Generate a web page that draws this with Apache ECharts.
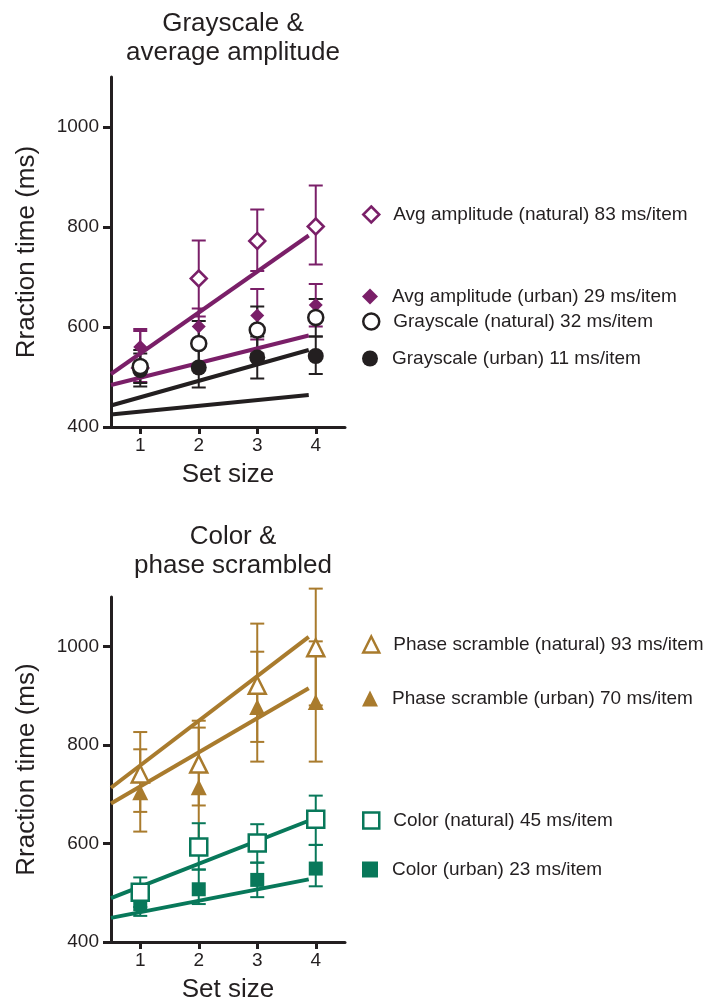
<!DOCTYPE html>
<html>
<head>
<meta charset="utf-8">
<script src="https://cdn.jsdelivr.net/npm/echarts@6/dist/echarts.min.js"></script>
<style>
html,body{margin:0;padding:0;background:#fff;}
#chart{width:722px;height:1004px;}
</style>
</head>
<body>
<div id="chart"></div>
<script>
// ---------- data ----------
const setSizes = [1, 2, 3, 4];
const yTicks = [400, 600, 800, 1000];
const fitX = [0.5, 3.88];

// Top panel: Grayscale & average amplitude
const avgNatMean = [518, 697, 772, 801];
const avgNatLo   = [490, 621, 712, 725];
const avgNatHi   = [596, 773, 835, 883];
const avgNatFit  = [506, 783];

const avgUrbMean = [560, 601, 623, 644];
const avgUrbLo   = [522, 565, 575, 601];
const avgUrbHi   = [592, 637, 676, 686];
const avgUrbFit  = [484, 583];

const grayNatMean = [521, 567, 594, 619];
const grayNatLo   = [488, 522, 547, 581];
const grayNatHi   = [554, 612, 641, 656];
const grayNatFit  = [443, 554];

const grayUrbMean = [514, 519, 539, 542];
const grayUrbLo   = [481, 479, 497, 506];
const grayUrbHi   = [547, 559, 581, 581];
const grayUrbFit  = [425, 464];

// Bottom panel: Color & phase scrambled
const phaseNatMean = [741, 761, 921, 997];
const phaseNatLo   = [664, 677, 806, 880];
const phaseNatHi   = [826, 849, 1046, 1117];
const phaseNatFit  = [713, 1019];

const phaseUrbMean = [704, 714, 877, 887];
const phaseUrbLo   = [624, 593, 766, 766];
const phaseUrbHi   = [791, 835, 989, 1010];
const phaseUrbFit  = [681, 915];

const colorNatMean = [501, 593, 601, 649];
const colorNatLo   = [471, 547, 561, 597];
const colorNatHi   = [531, 641, 639, 697];
const colorNatFit  = [489, 646];

const colorUrbMean = [477, 507, 526, 549];
const colorUrbLo   = [453, 477, 491, 513];
const colorUrbHi   = [500, 547, 561, 597];
const colorUrbFit  = [449, 527];

const titles = ['Grayscale &\naverage amplitude', 'Color &\nphase scrambled'];
const yName = 'Rraction time (ms)';
const xName = 'Set size';
const names = {
  avgNat: 'Avg amplitude (natural) 83 ms/item',
  avgUrb: 'Avg amplitude (urban) 29 ms/item',
  grayNat: 'Grayscale (natural) 32 ms/item',
  grayUrb: 'Grayscale (urban) 11 ms/item',
  phaseNat: 'Phase scramble (natural) 93 ms/item',
  phaseUrb: 'Phase scramble (urban) 70 ms/item',
  colorNat: 'Color (natural) 45 ms/item',
  colorUrb: 'Color (urban) 23 ms/item'
};

// ---------- styles ----------
const PURPLE = '#7a1f68';
const BLACK = '#231f20';
const GOLD = '#a97b2d';
const GREEN = '#08785a';
const FONT = '"Liberation Sans", Arial, Helvetica, sans-serif';

const chart = echarts.init(document.getElementById('chart'), null, {renderer: 'canvas'});

function zip(a, b) { return a.map((v, i) => [v, b[i]]); }

function errSeries(idx, color, lo, hi) {
  return {
    type: 'custom', xAxisIndex: idx, yAxisIndex: idx, silent: true, z: 2,
    clip: false,
    data: setSizes.map((x, i) => [x, lo[i], hi[i]]),
    renderItem: function (params, api) {
      const x = api.value(0);
      const p1 = api.coord([x, api.value(1)]);
      const p2 = api.coord([x, api.value(2)]);
      const w = 7;
      const st = {stroke: color, lineWidth: 2, fill: null};
      return {
        type: 'group',
        children: [
          {type: 'line', shape: {x1: p1[0], y1: p1[1], x2: p2[0], y2: p2[1]}, style: st},
          {type: 'line', shape: {x1: p1[0] - w, y1: p1[1], x2: p1[0] + w, y2: p1[1]}, style: st},
          {type: 'line', shape: {x1: p2[0] - w, y1: p2[1], x2: p2[0] + w, y2: p2[1]}, style: st}
        ]
      };
    }
  };
}

function fitSeries(idx, color, fit) {
  return {
    type: 'line', xAxisIndex: idx, yAxisIndex: idx, silent: true, z: 3,
    data: zip(fitX, fit), symbol: 'none',
    lineStyle: {color: color, width: 4}
  };
}

function markerSeries(idx, name, color, symbol, size, open, mean, z) {
  return {
    name: name, type: 'scatter', xAxisIndex: idx, yAxisIndex: idx, z: z,
    data: zip(setSizes, mean), symbol: symbol, symbolSize: size,
    itemStyle: open ? {color: '#fff', borderColor: color, borderWidth: 2.5, opacity: 1}
                    : {color: color, opacity: 1}
  };
}

function axisPair(idx) {
  const x = {
    type: 'value', gridIndex: idx, min: 0.5, max: 4.5,
    axisLine: {show: true, lineStyle: {color: BLACK, width: 3}},
    axisTick: {show: true, customValues: setSizes, length: 7, lineStyle: {color: BLACK, width: 3}},
    axisLabel: {customValues: setSizes, color: BLACK, fontSize: 19, fontFamily: FONT, margin: 9},
    splitLine: {show: false},
    name: xName, nameLocation: 'middle', nameGap: 35,
    nameTextStyle: {color: BLACK, fontSize: 26, fontFamily: FONT}
  };
  const y = {
    type: 'value', gridIndex: idx, min: 400, max: 1100,
    axisLine: {show: true, lineStyle: {color: BLACK, width: 3}},
    axisTick: {show: true, customValues: yTicks, length: 8, lineStyle: {color: BLACK, width: 3}},
    axisLabel: {customValues: yTicks, color: BLACK, fontSize: 19, fontFamily: FONT, margin: 12,
                formatter: function (v) { return String(v); }},
    splitLine: {show: false},
    name: yName, nameLocation: 'middle', nameGap: 71, nameRotate: 90,
    nameTextStyle: {color: BLACK, fontSize: 26, fontFamily: FONT, padding: [0, 0, 0, 0]}
  };
  return [x, y];
}

const a0 = axisPair(0), a1 = axisPair(1);

function legendItem(name, top, icon, color, open) {
  return {
    left: 362, top: top, padding: 0, itemWidth: 16, itemHeight: 16,
    selectedMode: false,
    textStyle: {color: BLACK, fontSize: 19, fontFamily: FONT, padding: [0, 0, 0, 9]},
    data: [{name: name, icon: icon,
      itemStyle: open ? {color: '#fff', borderColor: color, borderWidth: 2.5}
                      : {color: color, borderWidth: 0}}]
  };
}

const option = {
  backgroundColor: '#fff',
  animation: false,
  title: [
    {text: titles[0], left: 228, top: 4, textAlign: 'center',
     textStyle: {color: BLACK, fontSize: 26, fontWeight: 'normal', fontFamily: FONT, lineHeight: 29}},
    {text: titles[1], left: 228, top: 517, textAlign: 'center',
     textStyle: {color: BLACK, fontSize: 26, fontWeight: 'normal', fontFamily: FONT, lineHeight: 29}}
  ],
  legend: [
    legendItem(names.avgNat, 205, 'diamond', PURPLE, true),
    legendItem(names.avgUrb, 287, 'diamond', PURPLE, false),
    legendItem(names.grayNat, 312, 'circle', BLACK, true),
    legendItem(names.grayUrb, 349, 'circle', BLACK, false),
    legendItem(names.phaseNat, 635, 'triangle', GOLD, true),
    legendItem(names.phaseUrb, 689, 'triangle', GOLD, false),
    legendItem(names.colorNat, 811, 'rect', GREEN, true),
    legendItem(names.colorUrb, 860, 'rect', GREEN, false)
  ],
  grid: [
    {left: 111, top: 77, width: 234, height: 350},
    {left: 111, top: 597, width: 234, height: 350}
  ],
  xAxis: [a0[0], a1[0]],
  yAxis: [a0[1], a1[1]],
  series: [
    errSeries(0, PURPLE, avgNatLo, avgNatHi),
    errSeries(0, PURPLE, avgUrbLo, avgUrbHi),
    errSeries(0, BLACK, grayNatLo, grayNatHi),
    errSeries(0, BLACK, grayUrbLo, grayUrbHi),
    fitSeries(0, PURPLE, avgNatFit),
    fitSeries(0, PURPLE, avgUrbFit),
    fitSeries(0, BLACK, grayNatFit),
    fitSeries(0, BLACK, grayUrbFit),
    markerSeries(0, names.avgNat, PURPLE, 'diamond', 16, true, avgNatMean, 4),
    markerSeries(0, names.avgUrb, PURPLE, 'diamond', 14, false, avgUrbMean, 5),
    markerSeries(0, names.grayUrb, BLACK, 'circle', 16, false, grayUrbMean, 6),
    markerSeries(0, names.grayNat, BLACK, 'circle', 15, true, grayNatMean, 7),

    errSeries(1, GOLD, phaseNatLo, phaseNatHi),
    errSeries(1, GOLD, phaseUrbLo, phaseUrbHi),
    errSeries(1, GREEN, colorNatLo, colorNatHi),
    errSeries(1, GREEN, colorUrbLo, colorUrbHi),
    fitSeries(1, GOLD, phaseNatFit),
    fitSeries(1, GOLD, phaseUrbFit),
    fitSeries(1, GREEN, colorNatFit),
    fitSeries(1, GREEN, colorUrbFit),
    markerSeries(1, names.phaseUrb, GOLD, 'triangle', 16, false, phaseUrbMean, 4),
    markerSeries(1, names.phaseNat, GOLD, 'triangle', 17, true, phaseNatMean, 5),
    markerSeries(1, names.colorUrb, GREEN, 'rect', 14, false, colorUrbMean, 4),
    markerSeries(1, names.colorNat, GREEN, 'rect', 17, true, colorNatMean, 5)
  ]
};
chart.setOption(option);
</script>
</body>
</html>
